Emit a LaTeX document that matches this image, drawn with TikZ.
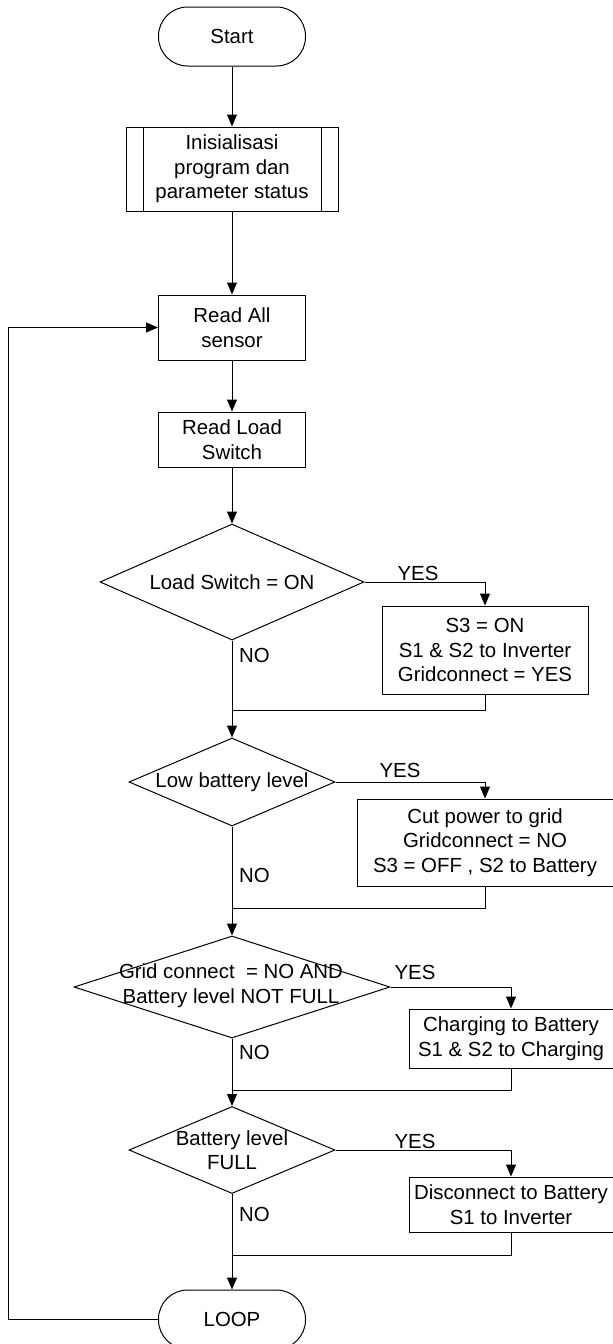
\documentclass[tikz,border=0pt]{standalone}
\usepackage{fontspec}
\setmainfont{Liberation Sans}
\usetikzlibrary{arrows.meta,shapes.geometric}

\tikzset{
  every node/.style={font=\fontsize{10.2}{12.25}\selectfont},
  box/.style={draw, line width=0.5pt, align=center, inner sep=0pt, minimum width=73.5pt},
  term/.style={draw, line width=0.5pt, rounded corners=14.5pt, minimum width=73.5pt, minimum height=29.5pt, inner sep=0pt},
  decision/.style={draw, diamond, line width=0.5pt, inner sep=0pt},
  flow/.style={line width=0.5pt, -{Triangle[length=6pt,width=5pt]}},
  line/.style={line width=0.5pt}
}

\begin{document}
\begin{tikzpicture}[x=0.5pt,y=-0.5pt]
  \useasboundingbox (0,0) rectangle (613,1344);

  % main column
  \node[term] (start) at (232,36.5) {Start};
  \node[box, minimum width=106pt, minimum height=42pt] (init) at (232,169) {Inisialisasi\\program dan\\parameter status};
  \draw[line] ([xshift=9pt]init.north west) -- ([xshift=9pt]init.south west);
  \draw[line] ([xshift=-8.5pt]init.north east) -- ([xshift=-8.5pt]init.south east);
  \node[box, minimum height=32.5pt] (readall) at (232,327.5) {Read All\\sensor};
  \node[box, minimum height=27.5pt] (readload) at (232,439.5) {Read Load\\Switch};

  % decisions
  \node[decision, minimum width=132pt, minimum height=58pt] (d1) at (232,582) {};
  \node (d1t) at (d1) {Load Switch = ON};
  \node[decision, minimum width=103pt, minimum height=44pt] (d2) at (232,782) {};
  \node (d2t) at (d2) {Low battery level};
  \node[decision, minimum width=158pt, minimum height=51pt] (d3) at (232,987) {};
  \node[align=center] (d3t) at (231,985.5) {Grid connect \ = NO AND\\Battery level NOT FULL};
  \node[decision, minimum width=103pt, minimum height=43.5pt] (d4) at (232,1150) {};
  \node[align=center] (d4t) at (d4) {Battery level\\FULL};
  \node[term] (loop) at (232,1319.5) {LOOP};

  % actions
  \node[box, minimum width=103pt, minimum height=44pt] (b1) at (485,650) {S3 = ON\\S1 \& S2 to Inverter\\Gridconnect = YES};
  \node[box, minimum width=128pt, minimum height=43.5pt] (b2) at (485,842.5) {Cut power to grid\\Gridconnect = NO\\S3 = OFF , S2 to Battery};
  \node[box, minimum width=102pt, minimum height=29.5pt] (b3) at (511,1038.5) {Charging to Battery\\S1 \& S2 to Charging};
  \node[box, minimum width=102pt, minimum height=27.5pt] (b4) at (511,1204.5) {Disconnect to Battery\\S1 to Inverter};

  % labels
  \node (yes1) at (418,573) {YES};
  \node (yes2) at (400,770) {YES};
  \node (yes3) at (415,972) {YES};
  \node (yes4) at (415,1141) {YES};
  \node[anchor=west] (no1) at (232,655) {NO};
  \node[anchor=west] (no2) at (232,875) {NO};
  \node[anchor=west] (no3) at (232,1052) {NO};
  \node[anchor=west] (no4) at (232,1214) {NO};

  \coordinate (m1) at (232,710);
  \coordinate (m2) at (232,908);
  \coordinate (m3) at (232,1090);
  \coordinate (m4) at (232,1255);
  \coordinate (back) at (8,1319.5);

  % connectors
  \draw[flow] (start) -- (init);
  \draw[flow] (init) -- (readall);
  \draw[flow] (readall) -- (readload);
  \draw[flow] (readload) -- (d1);
  \draw[flow] (d1.east) -| (b1.north);
  \draw[flow] (d1) -- (d2);
  \draw[line] (b1.south) |- (m1);
  \draw[flow] (d2.east) -| (b2.north);
  \draw[flow] (d2) -- (d3);
  \draw[line] (b2.south) |- (m2);
  \draw[flow] (d3.east) -| (b3.north);
  \draw[flow] (d3) -- (d4);
  \draw[line] (b3.south) |- (m3);
  \draw[flow] (d4.east) -| (b4.north);
  \draw[flow] (d4) -- (loop);
  \draw[line] (b4.south) |- (m4);
  \draw[flow] (loop.west) -- (back) |- (readall.west);

\end{tikzpicture}
\end{document}
